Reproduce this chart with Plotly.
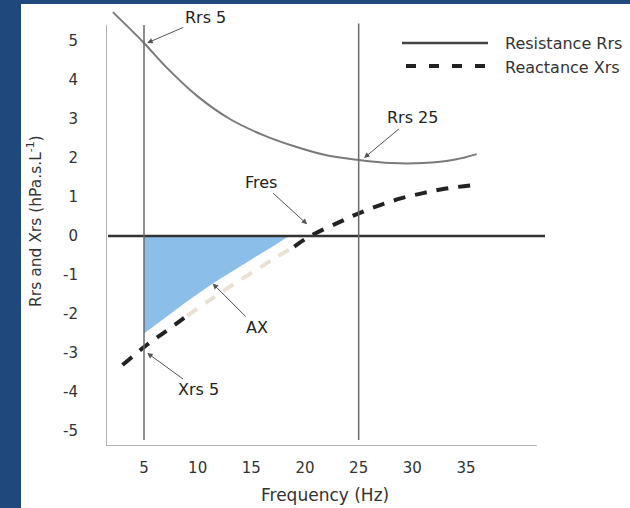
import plotly.graph_objects as go

# Resistance (Rrs) vs frequency
rrs_freq = [2.1, 5, 7, 10, 13, 16, 19, 22, 25, 28, 31, 34, 36]
rrs_vals = [5.74, 4.95, 4.35, 3.58, 3.0, 2.6, 2.3, 2.07, 1.95, 1.87, 1.87, 1.96, 2.1]

# Reactance (Xrs) vs frequency
xrs_freq = [3, 5, 7, 9, 11, 13, 15, 17, 19, 20.5, 23, 25, 27, 29, 31, 33, 35.5]
xrs_vals = [-3.31, -2.85, -2.45, -2.05, -1.67, -1.3, -0.95, -0.6, -0.27, 0.0,
            0.33, 0.58, 0.79, 0.97, 1.1, 1.21, 1.3]

# Upper edge of the reactance area (AX) between 5 Hz and the zero crossing
ax_freq = [5, 7, 9, 11.4, 13, 15, 17, 18.5]
ax_vals = [-2.5, -2.08, -1.68, -1.22, -0.94, -0.6, -0.27, 0.0]

x_ticks = [5, 10, 15, 20, 25, 30, 35]
y_ticks = [-5, -4, -3, -2, -1, 0, 1, 2, 3, 4, 5]

FONT = "DejaVu Sans"
W, H = 630, 508
ML, MR, MT, MB = 106, 85, 8, 62
PW, PH = W - ML - MR, H - MT - MB
X_RANGE = [1.46, 42.36]
Y_RANGE = [-5.385, 5.846]


def px(xp):
    return (xp - ML) / PW


def py(yp):
    return (H - MB - yp) / PH


fig = go.Figure()

# shaded AX region
fig.add_trace(go.Scatter(
    x=ax_freq + [ax_freq[0]], y=ax_vals + [0], mode="lines", fill="toself",
    fillcolor="rgb(140,190,234)", line=dict(width=0),
    hoverinfo="skip", showlegend=False))

fig.add_trace(go.Scatter(
    x=rrs_freq, y=rrs_vals, mode="lines", line=dict(color="#7a7a7a", width=2, shape="spline"),
    name="Resistance Rrs", showlegend=False))

# reactance: dark outside the shaded region, pale along its edge
segments = [(0, 4, "#222222"), (3, 9, "#e9e1d3"), (8, len(xrs_freq), "#222222")]
for i0, i1, col in segments:
    fig.add_trace(go.Scatter(
        x=xrs_freq[i0:i1], y=xrs_vals[i0:i1], mode="lines",
        line=dict(color=col, width=4, dash="12px,10px", shape="spline"),
        name="Reactance Xrs", showlegend=False))

shapes = [
    # white panel
    dict(type="rect", xref="paper", yref="paper", x0=px(21), x1=px(640), y0=py(520), y1=py(4),
         fillcolor="white", line=dict(width=0), layer="below"),
    # axes
    dict(type="line", x0=X_RANGE[0], x1=X_RANGE[0], y0=Y_RANGE[0], y1=5.41,
         line=dict(color="#9a9a9a", width=1.5)),
    dict(type="line", x0=X_RANGE[0], x1=41.6, y0=Y_RANGE[0], y1=Y_RANGE[0],
         line=dict(color="#9a9a9a", width=1.5)),
    # zero line
    dict(type="line", x0=1.65, x1=X_RANGE[1], y0=0, y1=0, line=dict(color="#333333", width=2.5)),
    # 5 Hz and 25 Hz markers
    dict(type="line", x0=5, x1=5, y0=-5.23, y1=5.41, line=dict(color="#6a6a6a", width=1.5)),
    dict(type="line", x0=25, x1=25, y0=-5.23, y1=5.45, line=dict(color="#6a6a6a", width=1.5)),
    # legend samples
    dict(type="line", xref="paper", yref="paper", x0=px(402), x1=px(488), y0=py(43), y1=py(43),
         line=dict(color="#444444", width=2.5)),
    dict(type="line", xref="paper", yref="paper", x0=px(406), x1=px(488), y0=py(66), y1=py(66),
         line=dict(color="#222222", width=4, dash="10px,13px")),
]

ann_font = dict(family=FONT, size=16, color="#222222")
arrow = dict(showarrow=True, arrowhead=2, arrowsize=1.1, arrowwidth=1, arrowcolor="#555555",
             axref="pixel", ayref="pixel", font=ann_font)

i5 = rrs_freq.index(5)
i25 = rrs_freq.index(25)
j5 = xrs_freq.index(5)
jres = xrs_vals.index(0.0)
k_ax = ax_freq.index(11.4)

label_font = dict(family=FONT, size=16, color="#333333")
annotations = [
    dict(x=5.3, y=rrs_vals[i5], text="Rrs 5", ax=58, ay=-25, **arrow),
    dict(x=25.5, y=rrs_vals[i25] + 0.05, text="Rrs 25", ax=48, ay=-40, **arrow),
    dict(x=xrs_freq[jres] - 0.3, y=0.3, text="Fres", ax=-46, ay=-42, **arrow),
    dict(x=ax_freq[k_ax], y=ax_vals[k_ax], text="AX", ax=44, ay=44, **arrow),
    dict(x=5.3, y=xrs_vals[j5] - 0.15, text="Xrs 5", ax=51, ay=37, **arrow),
    # legend labels
    dict(xref="paper", yref="paper", x=px(503), y=py(43), text="Resistance Rrs", showarrow=False,
         xanchor="left", yanchor="middle", font=label_font),
    dict(xref="paper", yref="paper", x=px(503), y=py(67), text="Reactance Xrs", showarrow=False,
         xanchor="left", yanchor="middle", font=label_font),
    # axis titles
    dict(xref="paper", yref="paper", x=px(325), y=py(495), text="Frequency (Hz)", showarrow=False,
         xanchor="center", yanchor="middle", font=dict(family=FONT, size=17, color="#333333")),
    dict(xref="paper", yref="paper", x=px(35), y=py(221), text="Rrs and Xrs (hPa.s.L<sup>-1</sup>)",
         showarrow=False, textangle=-90, xanchor="center", yanchor="middle",
         font=dict(family=FONT, size=15.5, color="#333333")),
]

fig.update_layout(
    width=W, height=H, margin=dict(l=ML, r=MR, t=MT, b=MB),
    paper_bgcolor="#1f497d", plot_bgcolor="white",
    showlegend=False, shapes=shapes, annotations=annotations,
    xaxis=dict(range=X_RANGE, tickvals=x_ticks, ticktext=[str(v) for v in x_ticks],
               showgrid=False, zeroline=False, showline=False,
               ticks="outside", ticklen=8, tickcolor="rgba(0,0,0,0)",
               tickfont=dict(family=FONT, size=15, color="#333333")),
    yaxis=dict(range=Y_RANGE, tickvals=y_ticks, ticktext=[str(v) for v in y_ticks],
               showgrid=False, zeroline=False, showline=False,
               ticks="outside", ticklen=24, tickcolor="rgba(0,0,0,0)",
               tickfont=dict(family=FONT, size=15, color="#333333")),
)

fig.write_html("out.html")
